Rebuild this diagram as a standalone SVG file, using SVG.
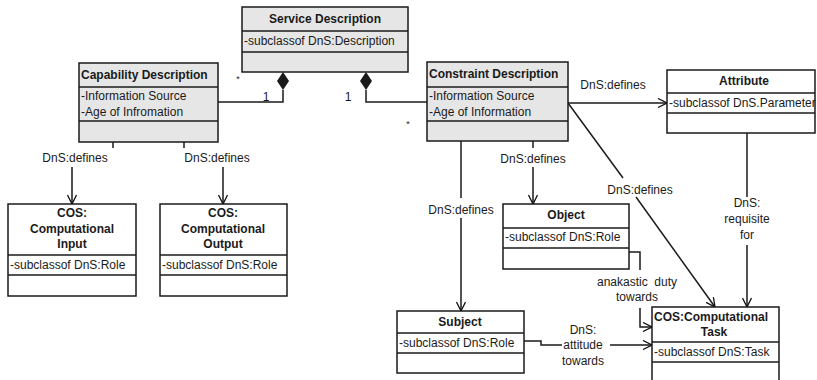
<svg xmlns="http://www.w3.org/2000/svg" width="817" height="380" viewBox="0 0 817 380">
<defs>
<marker id="arr" viewBox="0 0 10 10" refX="10" refY="5" markerWidth="10" markerHeight="10" markerUnits="userSpaceOnUse" orient="auto">
<path d="M1,0.5 L10,5 L1,9.5" fill="none" stroke="#111" stroke-width="1.3"/>
</marker>
</defs>
<style>
.box{stroke:#1a1a1a;stroke-width:1.5}
.g{fill:#e6e6e6}
.w{fill:#ffffff}
.ln{fill:none;stroke:#1a1a1a;stroke-width:1.5}
text{font-family:"Liberation Sans",Arial,sans-serif;font-size:12px;fill:#1a1a1a}
.b{font-weight:bold}
.c{text-anchor:middle}
.e{text-anchor:end}
.st{font-size:9px}
</style>
<rect width="817" height="380" fill="#ffffff"/>

<g id="connectors">
<!-- composition lines -->
<path class="ln" d="M283,90 V102 H218"/>
<path d="M283,72 L289,81 L283,90 L277,81 Z" fill="#1a1a1a"/>
<path class="ln" d="M366,90 V102 H427"/>
<path d="M366,72 L372,81 L366,90 L360,81 Z" fill="#1a1a1a"/>
<text x="266" y="101" class="c">1</text>
<text x="348" y="101" class="c">1</text>
<text x="238" y="82" class="c st">*</text>
<text x="408" y="127" class="c st">*</text>
<!-- capability defines -->
<path class="ln" d="M113,142 V148"/>
<path class="ln" d="M184,142 V148"/>
<text x="75" y="162" class="c">DnS:defines</text>
<text x="217" y="162" class="c">DnS:defines</text>
<path class="ln" d="M72,167 V204" marker-end="url(#arr)"/>
<path class="ln" d="M223,167 V204" marker-end="url(#arr)"/>
<!-- constraint -> attribute -->
<path class="ln" d="M568,103 H667" marker-end="url(#arr)"/>
<text x="613" y="89" class="c">DnS:defines</text>
<!-- constraint -> task diagonal -->
<path class="ln" d="M568,103 L623,178"/>
<path class="ln" d="M636,197 L715,307" marker-end="url(#arr)"/>
<text x="640" y="194" class="c">DnS:defines</text>
<!-- constraint -> object -->
<path class="ln" d="M533,141 V148"/>
<text x="533" y="163" class="c">DnS:defines</text>
<path class="ln" d="M533,167 V204" marker-end="url(#arr)"/>
<!-- constraint -> subject -->
<path class="ln" d="M461,141 V198"/>
<text x="461" y="214" class="c">DnS:defines</text>
<path class="ln" d="M461,218 V311" marker-end="url(#arr)"/>
<!-- attribute -> task -->
<path class="ln" d="M747,133 V197"/>
<text x="747" y="207" class="c">DnS:</text>
<text x="747" y="223" class="c">requisite</text>
<text x="747" y="239" class="c">for</text>
<path class="ln" d="M747,245 V307" marker-end="url(#arr)"/>
<!-- object -> task -->
<path class="ln" d="M629,252 H640 V270"/>
<text x="597" y="286">anakastic</text>
<text x="677" y="286" class="e">duty</text>
<text x="637" y="301" class="c">towards</text>
<path class="ln" d="M640,308 V327 H652" marker-end="url(#arr)"/>
<!-- subject -> task -->
<path class="ln" d="M524,341 H541 V345 H562"/>
<text x="583" y="334" class="c">DnS:</text>
<text x="583" y="349" class="c">attitude</text>
<text x="583" y="365" class="c">towards</text>
<path class="ln" d="M610,345 H652" marker-end="url(#arr)"/>
</g>

<g id="service">
<rect class="box g" x="242" y="7" width="166" height="65"/>
<line class="box" x1="242" y1="31" x2="408" y2="31"/>
<line class="box" x1="242" y1="52" x2="408" y2="52"/>
<text x="325" y="23" class="b c">Service Description</text>
<text x="244" y="45">-subclassof DnS:Description</text>
</g>

<g id="capability">
<rect class="box g" x="79" y="63" width="139" height="79"/>
<line class="box" x1="79" y1="87" x2="218" y2="87"/>
<line class="box" x1="79" y1="121" x2="218" y2="121"/>
<text x="81" y="79" class="b">Capability Description</text>
<text x="81" y="100">-Information Source</text>
<text x="81" y="116">-Age of Infromation</text>
</g>

<g id="constraint">
<rect class="box g" x="427" y="62" width="141" height="79"/>
<line class="box" x1="427" y1="87" x2="568" y2="87"/>
<line class="box" x1="427" y1="121" x2="568" y2="121"/>
<text x="429" y="78" class="b">Constraint Description</text>
<text x="429" y="100">-Information Source</text>
<text x="429" y="116">-Age of Information</text>
</g>

<g id="attribute">
<rect class="box w" x="667" y="70" width="148" height="63"/>
<line class="box" x1="667" y1="93" x2="815" y2="93"/>
<line class="box" x1="667" y1="113" x2="815" y2="113"/>
<text x="744" y="85" class="b c">Attribute</text>
<text x="669" y="107">-subclassof DnS.Parameter</text>
</g>

<g id="input">
<rect class="box w" x="8" y="204" width="128" height="92"/>
<line class="box" x1="8" y1="255" x2="136" y2="255"/>
<line class="box" x1="8" y1="275" x2="136" y2="275"/>
<text x="72" y="217" class="b c">COS:</text>
<text x="72" y="233" class="b c">Computational</text>
<text x="72" y="248" class="b c">Input</text>
<text x="10" y="269">-subclassof DnS:Role</text>
</g>

<g id="output">
<rect class="box w" x="160" y="204" width="127" height="92"/>
<line class="box" x1="160" y1="255" x2="287" y2="255"/>
<line class="box" x1="160" y1="275" x2="287" y2="275"/>
<text x="223" y="217" class="b c">COS:</text>
<text x="223" y="233" class="b c">Computational</text>
<text x="223" y="248" class="b c">Output</text>
<text x="162" y="269">-subclassof DnS:Role</text>
</g>

<g id="object">
<rect class="box w" x="503" y="204" width="126" height="65"/>
<line class="box" x1="503" y1="228" x2="629" y2="228"/>
<line class="box" x1="503" y1="248" x2="629" y2="248"/>
<text x="566" y="219" class="b c">Object</text>
<text x="505" y="241">-subclassof DnS:Role</text>
</g>

<g id="subject">
<rect class="box w" x="397" y="311" width="127" height="62"/>
<line class="box" x1="397" y1="333" x2="524" y2="333"/>
<line class="box" x1="397" y1="353" x2="524" y2="353"/>
<text x="460" y="326" class="b c">Subject</text>
<text x="399" y="347">-subclassof DnS:Role</text>
</g>

<g id="task">
<rect class="box w" x="652" y="307" width="127" height="85"/>
<line class="box" x1="652" y1="342" x2="779" y2="342"/>
<line class="box" x1="652" y1="362" x2="779" y2="362"/>
<text x="654" y="321" class="b">COS:Computational</text>
<text x="714" y="336" class="b c">Task</text>
<text x="654" y="356">-subclassof DnS:Task</text>
</g>
</svg>
